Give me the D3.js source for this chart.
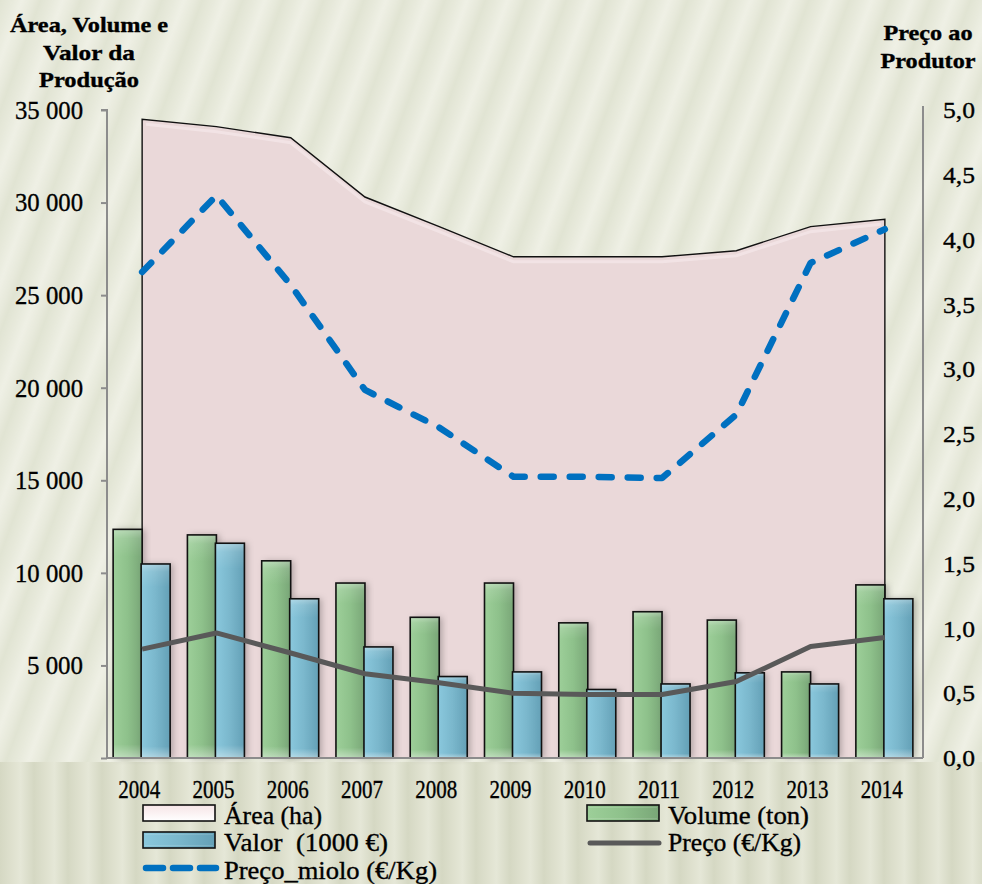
<!DOCTYPE html>
<html><head><meta charset="utf-8">
<script src="https://cdn.jsdelivr.net/npm/d3@7/dist/d3.min.js"></script>
<style>
html,body{margin:0;padding:0;background:#e7e9da;}
svg{display:block;}
text{font-family:"Liberation Serif","Times New Roman",serif;fill:#000;stroke:#000;stroke-width:0.35px;}
</style></head>
<body><svg id="c" width="982" height="884"></svg>
<script>
const years = ["2004","2005","2006","2007","2008","2009","2010","2011","2012","2013","2014"];
const area = [34500,34100,33500,30300,28700,27070,27070,27070,27400,28700,29100];
const volume = [12350,12050,10650,9450,7600,9450,7300,7900,7450,4650,9350];
const valor = [10480,11600,8600,6000,4400,4650,3700,4000,4600,4000,8600];
const preco = [0.84,0.965,0.81,0.65,0.58,0.50,0.49,0.49,0.59,0.86,0.93];
const precoMiolo = [3.75,4.34,3.65,2.84,2.55,2.17,2.17,2.16,2.65,3.82,4.08];
const leftTicks = [0,5000,10000,15000,20000,25000,30000,35000];
const rightTicks = [0,0.5,1,1.5,2,2.5,3,3.5,4,4.5,5];
const legendItems = [
  {label:"Área (ha)", type:"area", w:98},
  {label:"Volume (ton)", type:"volume", w:141},
  {label:"Valor  (1000 €)", type:"valor", w:164},
  {label:"Preço (€/Kg)", type:"preco", w:133},
  {label:"Preço_miolo (€/Kg)", type:"miolo", w:213}
];

const svg = d3.select("#c");
const defs = svg.append("defs");

// background stripes
const pat = defs.append("pattern").attr("id","bgp").attr("patternUnits","userSpaceOnUse")
  .attr("width",38).attr("height",38).attr("patternTransform","rotate(20)");
const bgG = defs.append("linearGradient").attr("id","bgstripe").attr("x1",0).attr("x2",1).attr("y1",0).attr("y2",0);
[[0,"#e1e4d3"],[0.3,"#e8eadc"],[0.55,"#eff0e5"],[0.8,"#e8eadc"],[1,"#e1e4d3"]].forEach(s=>bgG.append("stop").attr("offset",s[0]).attr("stop-color",s[1]));
pat.append("rect").attr("width",38).attr("height",38).attr("fill","url(#bgstripe)");
const pat2 = defs.append("pattern").attr("id","bgp2").attr("patternUnits","userSpaceOnUse")
  .attr("width",34).attr("height",34);
const bgG2 = defs.append("linearGradient").attr("id","bgstripe2").attr("x1",0).attr("x2",1).attr("y1",0).attr("y2",0);
[[0,"#d5d8c3"],[0.4,"#e0e2d0"],[0.6,"#e5e7d7"],[1,"#d5d8c3"]].forEach(s=>bgG2.append("stop").attr("offset",s[0]).attr("stop-color",s[1]));
pat2.append("rect").attr("width",34).attr("height",34).attr("fill","url(#bgstripe2)");

svg.append("rect").attr("width",982).attr("height",884).attr("fill","url(#bgp)");
svg.append("rect").attr("y",762).attr("width",982).attr("height",122).attr("fill","url(#bgp2)");

// bar gradients
function barGrad(id, light, mid, dark){
  const g = defs.append("linearGradient").attr("id",id).attr("x1",0).attr("x2",1).attr("y1",0).attr("y2",0);
  g.append("stop").attr("offset",0).attr("stop-color",light);
  g.append("stop").attr("offset",0.5).attr("stop-color",mid);
  g.append("stop").attr("offset",1).attr("stop-color",dark);
}
barGrad("gGreen","#9dcf99","#8ec18b","#79a677");
barGrad("gBlue","#8ac8dd","#7ab7cc","#64a0b6");
const vg = defs.append("linearGradient").attr("id","vshade").attr("x1",0).attr("x2",0).attr("y1",0).attr("y2",1);
[[0,"#ffffff",0.35],[0.04,"#ffffff",0.12],[0.12,"#ffffff",0],[0.94,"#ffffff",0],[1,"#ffffff",0.4]].forEach(s=>vg.append("stop").attr("offset",s[0]).attr("stop-color",s[1]).attr("stop-opacity",s[2]));
const flt = defs.append("filter").attr("id","shadow").attr("x","-30%").attr("y","-10%").attr("width","160%").attr("height","120%");
flt.append("feDropShadow").attr("dx",3).attr("dy",0).attr("stdDeviation",3).attr("flood-color","#000").attr("flood-opacity",0.25);

const legAreaG = defs.append("linearGradient").attr("id","gArea").attr("x1",0).attr("x2",0).attr("y1",0).attr("y2",1);
legAreaG.append("stop").attr("offset",0).attr("stop-color","#f6e4e6");
legAreaG.append("stop").attr("offset",1).attr("stop-color","#ffffff");

const x = d3.scaleBand().domain(years).range([105,922]).padding(0);
const cx = d => x(d) + x.bandwidth()/2;
const yL = d3.scaleLinear().domain([0,35000]).range([758,110]);
const yR = d3.scaleLinear().domain([0,5]).range([758,110]);

// area
const areaGen = d3.area().x((d,i)=>cx(years[i])).y0(yL(0)).y1(d=>yL(d));
svg.append("path").datum(area).attr("d",areaGen).attr("fill","#ead8d9");
const outline = d3.line().x(d=>d[0]).y(d=>d[1]);
const outPts = [[cx(years[0]),yL(0)]].concat(area.map((v,i)=>[cx(years[i]),yL(v)])).concat([[cx(years[years.length-1]),yL(0)]]);
svg.append("path").attr("d",outline(outPts)).attr("fill","none").attr("stroke","#111").attr("stroke-width",1.4);
const innerPts = area.map((v,i)=>[cx(years[i]) + (i===0?4:(i===years.length-1?-4:0)), yL(v)+5]);
svg.append("path").attr("d",outline(innerPts)).attr("fill","none").attr("stroke","#f5e8e9").attr("stroke-width",3).attr("opacity",0.7);

// bars
const barW = 29;
const bars = svg.append("g");
years.forEach((yr,i)=>{
  const c = cx(yr);
  [[volume[i], c-barW, "url(#gGreen)"],[valor[i], c-1, "url(#gBlue)"]].forEach(([v,bx,fill])=>{
    const g = bars.append("g");
    g.append("rect").attr("x",bx).attr("y",yL(v)).attr("width",barW).attr("height",yL(0)-yL(v))
      .attr("fill",fill).attr("filter","url(#shadow)");
    g.append("rect").attr("x",bx).attr("y",yL(v)).attr("width",barW).attr("height",yL(0)-yL(v))
      .attr("fill","url(#vshade)").attr("stroke","#111").attr("stroke-width",1.6);
  });
});

// preco line
const lineR = d3.line().x((d,i)=>cx(years[i])).y(d=>yR(d));
svg.append("path").datum(preco).attr("d",lineR).attr("fill","none").attr("stroke","#595959").attr("stroke-width",5).attr("stroke-linejoin","round");
// miolo dashed
svg.append("path").datum(precoMiolo).attr("d",lineR).attr("fill","none").attr("stroke","#0070c0").attr("stroke-width",6.5)
  .attr("stroke-dasharray","13,16").attr("stroke-linecap","round").attr("stroke-linejoin","round");

// axes
const axL = svg.append("g").attr("transform","translate(107,0)").call(d3.axisLeft(yL).tickValues(leftTicks).tickSize(6).tickFormat(d=> d===0?"":d3.format(",")(d).replace(/,/g," ")));
axL.select(".domain").attr("stroke","#8c8c8c").attr("stroke-width",2).attr("d","M-6,110H0V758");
axL.selectAll(".tick line").attr("stroke","#8c8c8c").attr("stroke-width",2);
axL.selectAll(".tick text").attr("x",-24).attr("font-size",26).attr("fill","#000")
  .each(function(d){ const t=d3.select(this); if(d>0){ t.attr("textLength", d>=10000?68:56).attr("lengthAdjust","spacingAndGlyphs"); } });

const axR = svg.append("g").attr("transform","translate(923,0)").call(d3.axisRight(yR).tickValues(rightTicks).tickSize(0).tickFormat(d=>d3.format(".1f")(d).replace(".",",")));
axR.select(".domain").attr("stroke","#8c8c8c").attr("stroke-width",2).attr("d","M0,106V758");
axR.selectAll(".tick text").attr("x",20).attr("font-size",24).attr("fill","#000").attr("textLength",32).attr("lengthAdjust","spacingAndGlyphs");

const axB = svg.append("g").attr("transform","translate(0,758)").call(d3.axisBottom(x).tickSize(0).tickPadding(22));
axB.select(".domain").attr("stroke","#8c8c8c").attr("stroke-width",2).attr("d","M107,0H923");
axB.selectAll(".tick text").attr("font-size",25).attr("fill","#000").attr("textLength",42).attr("lengthAdjust","spacingAndGlyphs").attr("x",-3);

// titles
const titleL = [["Área, Volume e",158],["Valor da",92],["Produção",100]];
titleL.forEach((s,i)=>svg.append("text").attr("text-anchor","middle").attr("font-weight","bold").attr("font-size",21)
  .attr("x",89).attr("y",32+i*27.5).attr("textLength",s[1]).attr("lengthAdjust","spacingAndGlyphs").text(s[0]));
const titleR = [["Preço ao",89],["Produtor",95]];
titleR.forEach((s,i)=>svg.append("text").attr("text-anchor","middle").attr("font-weight","bold").attr("font-size",21)
  .attr("x",928).attr("y",40+i*28).attr("textLength",s[1]).attr("lengthAdjust","spacingAndGlyphs").text(s[0]));

// legend
const legPos = [[143,813],[587,813],[143,840],[587,840],[143,868]];
legendItems.forEach((it,i)=>{
  const [lx,ly] = legPos[i];
  const g = svg.append("g");
  if(it.type==="area"||it.type==="volume"||it.type==="valor"){
    const fill = it.type==="area"?"url(#gArea)":(it.type==="volume"?"url(#gGreen)":"url(#gBlue)");
    g.append("rect").attr("x",lx).attr("y",ly-8).attr("width",72).attr("height",16).attr("fill",fill).attr("stroke","#111").attr("stroke-width",1.6);
    g.append("rect").attr("x",lx+2).attr("y",ly-6).attr("width",68).attr("height",12).attr("fill","url(#vshade)");
  } else if(it.type==="preco"){
    g.append("line").attr("x1",lx+3).attr("x2",lx+72).attr("y1",ly+3).attr("y2",ly+3).attr("stroke","#595959").attr("stroke-width",5).attr("stroke-linecap","round");
  } else {
    g.append("line").attr("x1",lx+3).attr("x2",lx+73).attr("y1",ly).attr("y2",ly).attr("stroke","#0070c0").attr("stroke-width",6.5).attr("stroke-dasharray","17,10").attr("stroke-linecap","round");
  }
  g.append("text").attr("x",lx+81).attr("y",ly+11).attr("font-size",25).style("white-space","pre")
    .attr("textLength",it.w).attr("lengthAdjust","spacingAndGlyphs").text(it.label);
});
</script></body></html>
